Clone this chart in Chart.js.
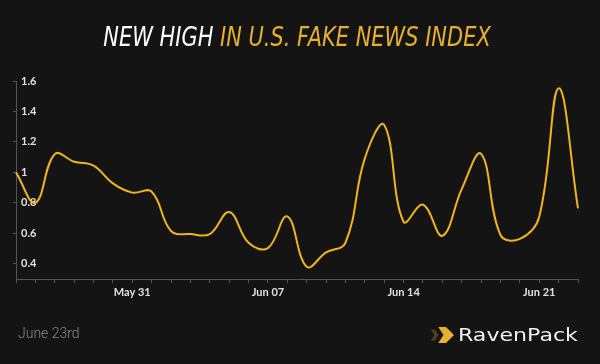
<!DOCTYPE html>
<html>
<head>
<meta charset="utf-8">
<script src="https://cdn.jsdelivr.net/npm/chart.js@4"></script>
<style>
  html, body { margin: 0; padding: 0; background: #141414; }
  #wrap { position: relative; width: 600px; height: 364px; overflow: hidden; background: #141414; }
  #c { position: absolute; left: 0; top: 0; }
  #title { position: absolute; left: 0; top: 22px; width: 594px; text-align: center;
    font-family: "Liberation Sans Narrow", "DejaVu Sans Condensed", "Liberation Sans", sans-serif;
    font-style: italic; font-size: 26px; line-height: 30px; white-space: nowrap;
    transform: scaleX(0.895); transform-origin: 297px 50%; }
  #title .w { color: #ffffff; }
  #title .g { color: #e8b02c; }
  #date { position: absolute; left: 18px; top: 324px; font-family: Roboto, sans-serif; font-weight: 300;
    font-size: 14px; line-height: 18px; color: #8a8a8a; }
  #logo { position: absolute; left: 458px; top: 324px; font-family: "DejaVu Sans", sans-serif; font-size: 17px;
    line-height: 22px; color: #f2f2f2; transform: scaleX(1.3); transform-origin: left center; white-space: nowrap; }
  #chev { position: absolute; left: 433px; top: 327px; width: 21px; height: 16px; background: #e8b02c;
    clip-path: polygon(25% 0, 62% 0, 100% 50%, 62% 100%, 25% 100%, 50% 50%); }
  #chev2 { position: absolute; left: 428px; top: 327px; width: 14px; height: 16px; background: #6b5220;
    clip-path: polygon(20% 15%, 50% 15%, 75% 50%, 50% 85%, 20% 85%, 45% 50%); opacity: 0.7; }
</style>
</head>
<body>
<div id="wrap">
  <canvas id="c" width="600" height="364"></canvas>
  <div id="title"><span class="w">NEW HIGH</span> <span class="g">IN U.S. FAKE NEWS INDEX</span></div>
  <div id="date">June 23rd</div>
  <div id="chev2"></div>
  <div id="chev"></div>
  <div id="logo">RavenPack</div>
</div>
<script>
// Data: daily U.S. Fake News Index, May 25 – Jun 23
const dates = [
  "May 25","May 26","May 27","May 28","May 29","May 30","May 31",
  "Jun 01","Jun 02","Jun 03","Jun 04","Jun 05","Jun 06","Jun 07",
  "Jun 08","Jun 09","Jun 10","Jun 11","Jun 12","Jun 13","Jun 14",
  "Jun 15","Jun 16","Jun 17","Jun 18","Jun 19","Jun 20","Jun 21",
  "Jun 22","Jun 23"
];
const fakeNewsIndex = [
  1.00, 0.80, 1.12, 1.07, 1.044, 0.928, 0.867,
  0.873, 0.615, 0.595, 0.595, 0.74, 0.538, 0.503,
  0.711, 0.381, 0.475, 0.538, 1.092, 1.311, 0.676,
  0.788, 0.584, 0.89, 1.121, 0.589, 0.563, 0.709,
  1.552, 0.764
];
const xLabelDates = ["May 31", "Jun 07", "Jun 14", "Jun 21"];
const yTickValues = [0.4, 0.6, 0.8, 1, 1.2, 1.4, 1.6];

new Chart(document.getElementById('c'), {
  type: 'line',
  data: {
    labels: dates,
    datasets: [{
      data: fakeNewsIndex,
      borderColor: '#f0b41c',
      borderWidth: 2,
      pointRadius: 0,
      tension: 0.4,
      fill: false
    }]
  },
  options: {
    responsive: false,
    animation: false,
    layout: { padding: { left: 0, right: 22, top: 81, bottom: 60 } },
    plugins: { legend: { display: false }, tooltip: { enabled: false }, title: { display: false } },
    scales: {
      x: {
        type: 'category',
        offset: false,
        border: { display: true, color: '#555555', width: 1 },
        grid: { display: true, drawOnChartArea: false, drawTicks: true, tickLength: 4, color: '#555555' },
        ticks: {
          autoSkip: false, maxRotation: 0, padding: 3,
          color: '#e0e0e0', font: { family: 'Lato', size: 11, weight: 'bold' },
          callback: function (v, i) { const l = dates[i]; return xLabelDates.includes(l) ? l : ''; }
        },
        afterFit: function (s) { s.height = 25; }
      },
      y: {
        min: 0.3, max: 1.6,
        border: { display: true, color: '#555555', width: 1 },
        grid: { display: true, drawOnChartArea: false, drawTicks: true, tickLength: 3, color: '#555555' },
        afterBuildTicks: function (s) { s.ticks = yTickValues.map(v => ({ value: v })); },
        ticks: {
          mirror: true, padding: 5,
          color: '#e0e0e0', font: { family: 'Lato', size: 11, weight: 'bold' },
          callback: function (v) { return String(Number(v.toFixed(1))); }
        },
        afterFit: function (s) { s.width = 16; }
      }
    }
  }
});
</script>
</body>
</html>
